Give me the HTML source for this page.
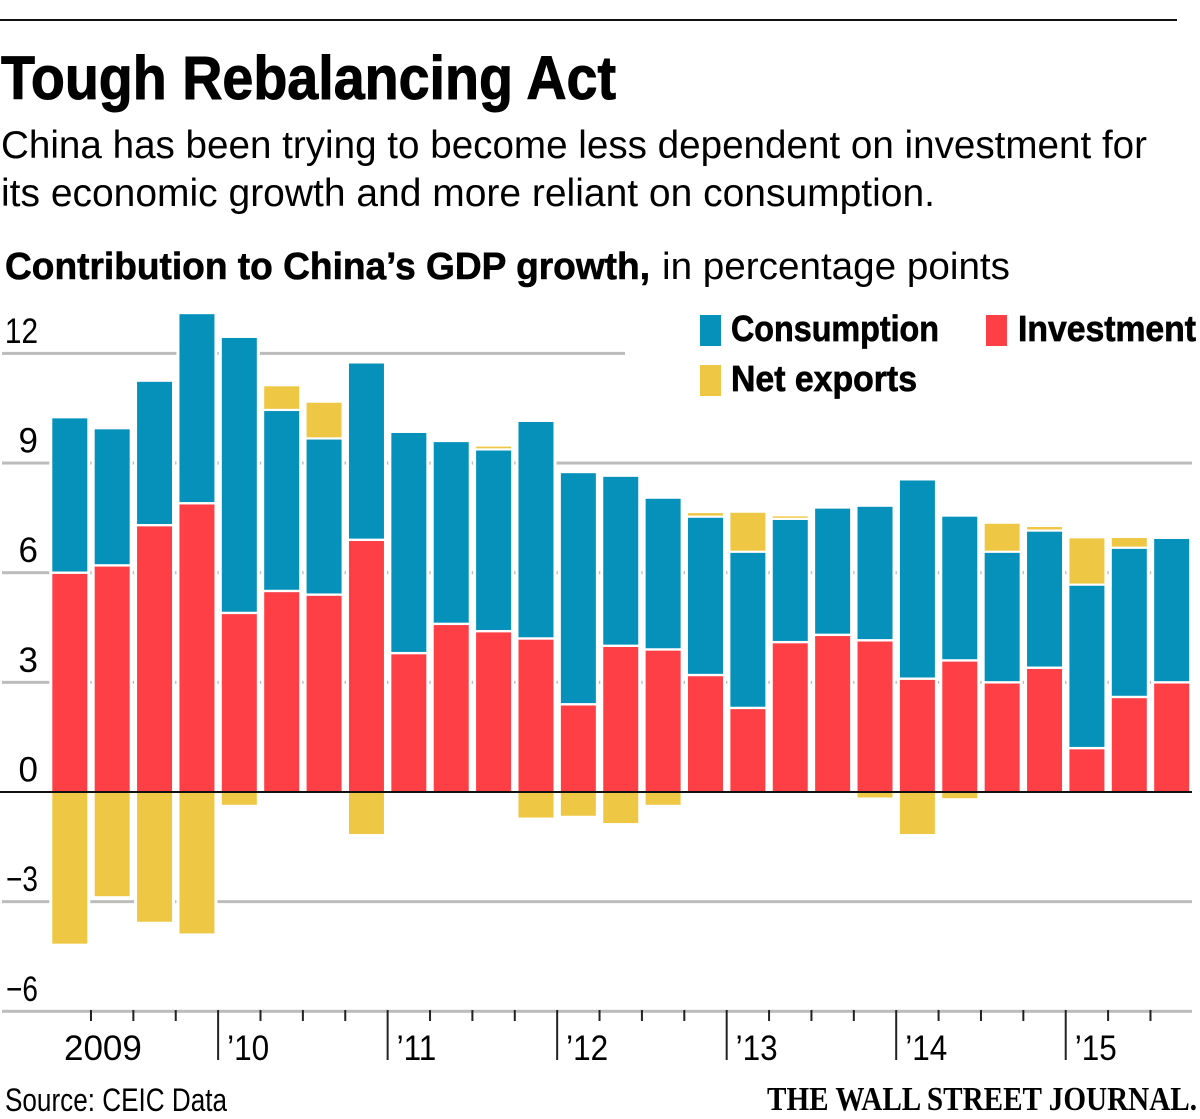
<!DOCTYPE html>
<html lang="en">
<head>
<meta charset="utf-8">
<title>Tough Rebalancing Act</title>
<style>
html,body{margin:0;padding:0;background:#fff;}
svg{display:block;}
text{font-family:"Liberation Sans",sans-serif;fill:#000;}
</style>
</head>
<body>
<svg id="chart" xmlns="http://www.w3.org/2000/svg" width="1200" height="1119" viewBox="0 0 1200 1119">
  <rect x="0" y="19" width="1177" height="2" fill="#111"/>
  <text x="1" y="99" font-size="61" font-weight="700" stroke="#000" stroke-width="1" textLength="615" lengthAdjust="spacingAndGlyphs">Tough Rebalancing Act</text>
  <text x="1" y="158" font-size="39" textLength="1146" lengthAdjust="spacingAndGlyphs">China has been trying to become less dependent on investment for</text>
  <text x="1" y="206" font-size="39" textLength="934" lengthAdjust="spacingAndGlyphs">its economic growth and more reliant on consumption.</text>
  <text x="5" y="279" font-size="38" font-weight="700" stroke="#000" stroke-width="0.6" textLength="645" lengthAdjust="spacingAndGlyphs">Contribution to China’s GDP growth,</text>
  <text x="662" y="279" font-size="38" textLength="348" lengthAdjust="spacingAndGlyphs">in percentage points</text>
  <g id="grid"></g>
  <g id="ylabels"></g>
  <g id="bars"></g>
  <g id="xaxis"></g>
  <g>
    <rect x="700" y="315" width="21" height="31" fill="#0591ba"/>
    <text x="731" y="341" font-size="36" font-weight="700" stroke="#000" stroke-width="0.7" textLength="208" lengthAdjust="spacingAndGlyphs">Consumption</text>
    <rect x="986" y="315" width="21" height="31" fill="#fe4046"/>
    <text x="1018" y="341" font-size="36" font-weight="700" stroke="#000" stroke-width="0.7" textLength="178" lengthAdjust="spacingAndGlyphs">Investment</text>
    <rect x="700" y="365" width="21" height="31" fill="#eec845"/>
    <text x="731" y="391" font-size="36" font-weight="700" stroke="#000" stroke-width="0.7" textLength="186" lengthAdjust="spacingAndGlyphs">Net exports</text>
  </g>
  <text x="5" y="1111" font-size="32" textLength="222" lengthAdjust="spacingAndGlyphs">Source: CEIC Data</text>
  <text x="767" y="1110" font-size="34" font-weight="700" textLength="430" lengthAdjust="spacingAndGlyphs" style="font-family:'Liberation Serif',serif">THE WALL STREET JOURNAL.</text>
</svg>
<script>
const quarters = ["2009Q1","2009Q2","2009Q3","2009Q4","2010Q1","2010Q2","2010Q3","2010Q4","2011Q1","2011Q2","2011Q3","2011Q4","2012Q1","2012Q2","2012Q3","2012Q4","2013Q1","2013Q2","2013Q3","2013Q4","2014Q1","2014Q2","2014Q3","2014Q4","2015Q1","2015Q2","2015Q3"];
const investment = [6.0,6.2,7.3,7.9,4.9,5.5,5.4,6.9,3.8,4.6,4.4,4.2,2.4,4.0,3.9,3.2,2.3,4.1,4.3,4.15,3.1,3.6,3.0,3.4,1.2,2.6,3.0];
const consumption = [4.25,3.75,3.95,5.2,7.55,4.95,4.27,4.85,6.05,5.0,4.97,5.95,6.35,4.65,4.15,4.33,4.27,3.37,3.48,3.68,5.45,3.96,3.57,3.75,4.47,4.08,3.95];
const netExports = [-4.15,-2.85,-3.55,-3.87,-0.35,0.65,0.98,-1.15,0,0,0.08,-0.7,-0.65,-0.85,-0.35,0.1,1.07,0.07,0,-0.15,-1.15,-0.17,0.77,0.1,1.27,0.27,0];
const yTicks = [12,9,6,3,0,-3,-6];
const yearLabels = ["2009","’10","’11","’12","’13","’14","’15"];

const NS = "http://www.w3.org/2000/svg";
const COLORS = {inv:"#fe4046", con:"#0591ba", net:"#eec845"};
const y = v => 792 - v * 36.55;
const barX = i => 52.3 + i * 42.38;
const BAR_W = 35;
const boundaryX = i => barX(i) - 3.7;

function make(tag, attrs, parent) {
  const el = document.createElementNS(NS, tag);
  for (const k in attrs) el.setAttribute(k, attrs[k]);
  parent.appendChild(el);
  return el;
}
function fmt(v) { return v < 0 ? "\u2212" + Math.abs(v) : String(v); }

const grid = document.getElementById("grid");
const ylabels = document.getElementById("ylabels");
yTicks.forEach(t => {
  if (t !== 0) {
    const line = make("rect", {x:2, y:y(t)-1.5, width:(t === 12 ? 623 : 1190), height:3, fill:"#bcbcbc"}, grid);
    
    
  }
  const f = String(t).includes("1") ? 0.85 : (t < 0 ? 0.8 : 1);
  const lab = make("text", {transform:"translate(38," + (y(t) - 10.5) + ") scale(" + f + ",1)", "text-anchor":"end", "font-size":35}, ylabels);
  
  
  lab.textContent = fmt(t);
});

const bars = document.getElementById("bars");
quarters.forEach((q, i) => {
  const x = barX(i);
  const posTop = investment[i] + consumption[i] + Math.max(netExports[i], 0);
  const low = Math.min(netExports[i], 0);
  const halo = make("rect", {x:x-3, y:y(posTop)-2, width:BAR_W+6, height:y(low)-y(posTop)+5, fill:"#fff"}, bars);
  
  
});
quarters.forEach((q, i) => {
  const x = barX(i);
  const inv = investment[i], con = consumption[i], net = netExports[i];
  const r1 = make("rect", {x:x, y:y(inv)+1.2, width:BAR_W, height:y(0)-y(inv)-1.2, fill:COLORS.inv}, bars);
  
  
  const r2 = make("rect", {x:x, y:y(inv+con)+1, width:BAR_W, height:y(inv)-y(inv+con)-2.2, fill:COLORS.con}, bars);
  
  
  if (net > 0) {
    const r3 = make("rect", {x:x, y:y(inv+con+net), width:BAR_W, height:Math.max(y(inv+con)-y(inv+con+net)-1.2, 1.2), fill:COLORS.net}, bars);
    
    
  } else if (net < 0) {
    const r3 = make("rect", {x:x, y:y(0), width:BAR_W, height:y(net)-y(0), fill:COLORS.net}, bars);
    
    
  }
});

const xaxis = document.getElementById("xaxis");
const zero = make("rect", {x:0, y:y(0)-1, width:1192, height:2, fill:"#111"}, xaxis);


quarters.forEach((q, i) => {
  if (i === 0) return;
  const major = q.endsWith("Q1");
  const tick = make("rect", {x:boundaryX(i)-1, y:1010, width:2, height:major ? 50 : 11, fill:"#222"}, xaxis);
  
  
});
yearLabels.forEach((label, j) => {
  const tx = j === 0 ? 64 : boundaryX(j * 4) + 9;
  const f = label.includes("1") && j > 0 ? 0.9 : 1;
  const t = make("text", {transform:"translate(" + tx + ",1060) scale(" + f + ",1)", "font-size":35}, xaxis);
  
  
  t.textContent = label;
});
</script>
</body>
</html>
